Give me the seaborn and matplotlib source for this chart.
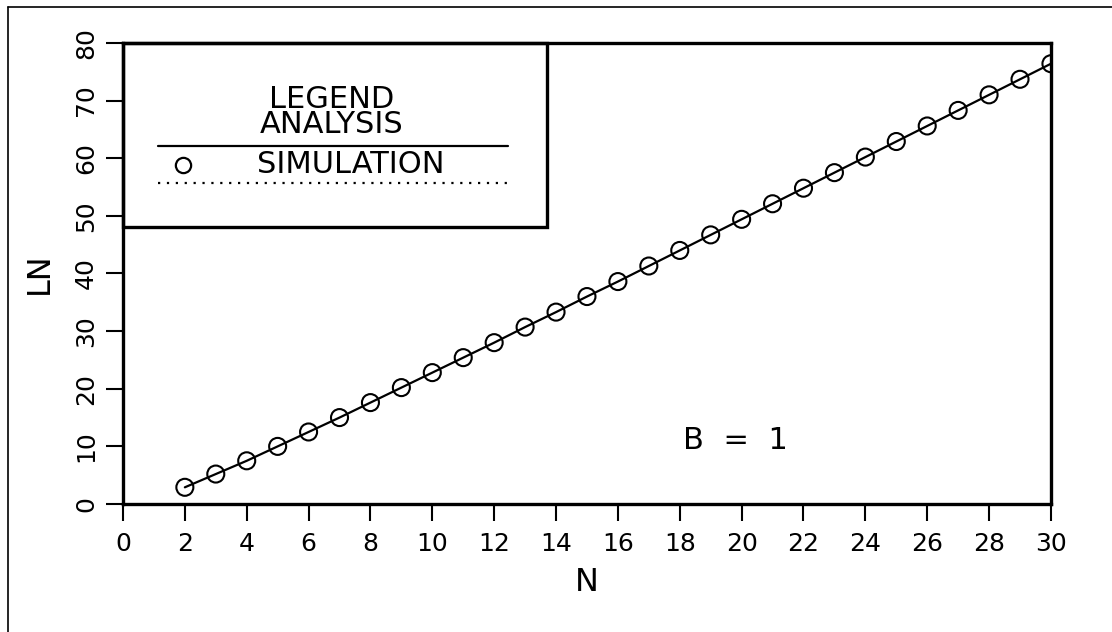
import matplotlib
matplotlib.use("Agg")
import matplotlib.pyplot as plt
from matplotlib.lines import Line2D
from matplotlib.patches import Rectangle
import seaborn as sns
import pandas as pd

# ---- data ----
n_values = [2, 3, 4, 5, 6, 7, 8, 9, 10, 11, 12, 13, 14, 15, 16,
            17, 18, 19, 20, 21, 22, 23, 24, 25, 26, 27, 28, 29, 30]
ln_analysis = [2.9, 5.2, 7.5, 10.0, 12.5, 15.0, 17.6, 20.2, 22.8, 25.4,
               28.0, 30.7, 33.3, 36.0, 38.6, 41.3, 44.0, 46.7, 49.4, 52.1,
               54.8, 57.5, 60.2, 62.9, 65.6, 68.3, 71.0, 73.7, 76.4]
ln_simulation = [2.9, 5.2, 7.5, 10.0, 12.5, 15.0, 17.6, 20.2, 22.8, 25.4,
                 28.0, 30.7, 33.3, 36.0, 38.6, 41.3, 44.0, 46.7, 49.4, 52.1,
                 54.8, 57.5, 60.2, 62.9, 65.6, 68.3, 71.0, 73.7, 76.4]
x_ticks = list(range(0, 31, 2))
y_ticks = list(range(0, 81, 10))
x_label = "N"
y_label = "LN"
annotation = "B  =  1"
legend_title = "LEGEND"
legend_entries = ["ANALYSIS", "SIMULATION"]

df = pd.DataFrame({"N": n_values, "analysis": ln_analysis, "simulation": ln_simulation})

sns.set_theme(style="white")
plt.rcParams["font.family"] = ["DejaVu Sans"]
plt.rcParams["text.color"] = "black"
plt.rcParams["axes.labelcolor"] = "black"
plt.rcParams["xtick.color"] = "black"
plt.rcParams["ytick.color"] = "black"

fig = plt.figure(figsize=(11.12, 6.32), dpi=100)
ax = fig.add_axes([0.1106, 0.2025, 0.8345, 0.7295])

sns.lineplot(data=df, x="N", y="analysis", ax=ax, color="black", linewidth=1.6)
sns.scatterplot(data=df, x="N", y="simulation", ax=ax, marker="o", s=150,
                facecolor="none", edgecolor="black", linewidth=1.5, zorder=3)

ax.set_xlim(0, 30)
ax.set_ylim(0, 80)
ax.set_xticks(x_ticks)
ax.set_yticks(y_ticks)
ax.set_xticklabels([str(v) for v in x_ticks], fontsize=18)
ax.set_yticklabels([str(v) for v in y_ticks], fontsize=18, rotation=90, va="center")
ax.tick_params(axis="both", direction="out", length=12, width=1.5, color="black",
               labelcolor="black", bottom=True, left=True)
ax.tick_params(axis="x", pad=8)
ax.tick_params(axis="y", pad=6)
ax.set_xlabel(x_label, fontsize=23, color="black", labelpad=8)
ax.set_ylabel(y_label, fontsize=23, color="black", labelpad=14)
for sp in ax.spines.values():
    sp.set_visible(True)
    sp.set_color("black")
    sp.set_linewidth(2.4)
ax.grid(False)

ax.text(19.8, 11.1, annotation, fontsize=22, ha="center", va="center", color="black")

# ---- hand-drawn style legend box ----
tr = ax.transAxes
ax.add_patch(Rectangle((0, 0.601), 0.457, 0.399, transform=tr, fill=False,
                       edgecolor="black", linewidth=2.4, zorder=4, clip_on=False))
ax.text(0.225, 0.850, legend_title + "\n" + legend_entries[0], transform=tr,
        fontsize=22, ha="center", va="center", multialignment="center",
        linespacing=0.85, color="black")
ax.add_line(Line2D([0.038, 0.415], [0.777, 0.777], transform=tr, color="black", linewidth=1.6))
ax.add_line(Line2D([0.065], [0.735], transform=tr, marker="o", markersize=11,
                   markerfacecolor="none", markeredgecolor="black", markeredgewidth=1.6,
                   linestyle="none"))
ax.text(0.245, 0.737, legend_entries[1], transform=tr, fontsize=22, ha="center",
        va="center", color="black")
ax.add_line(Line2D([0.038, 0.415], [0.696, 0.696], transform=tr, color="black",
                   linewidth=1.6, linestyle=(0, (1, 3))))

# ---- page border (top and left) ----
fig.add_artist(Line2D([0.0072, 1.0], [0.989, 0.989], transform=fig.transFigure,
                      color="black", linewidth=1.2))
fig.add_artist(Line2D([0.0072, 0.0072], [0.0, 0.989], transform=fig.transFigure,
                      color="black", linewidth=1.2))

fig.savefig("out.png", dpi=100, facecolor="white")
